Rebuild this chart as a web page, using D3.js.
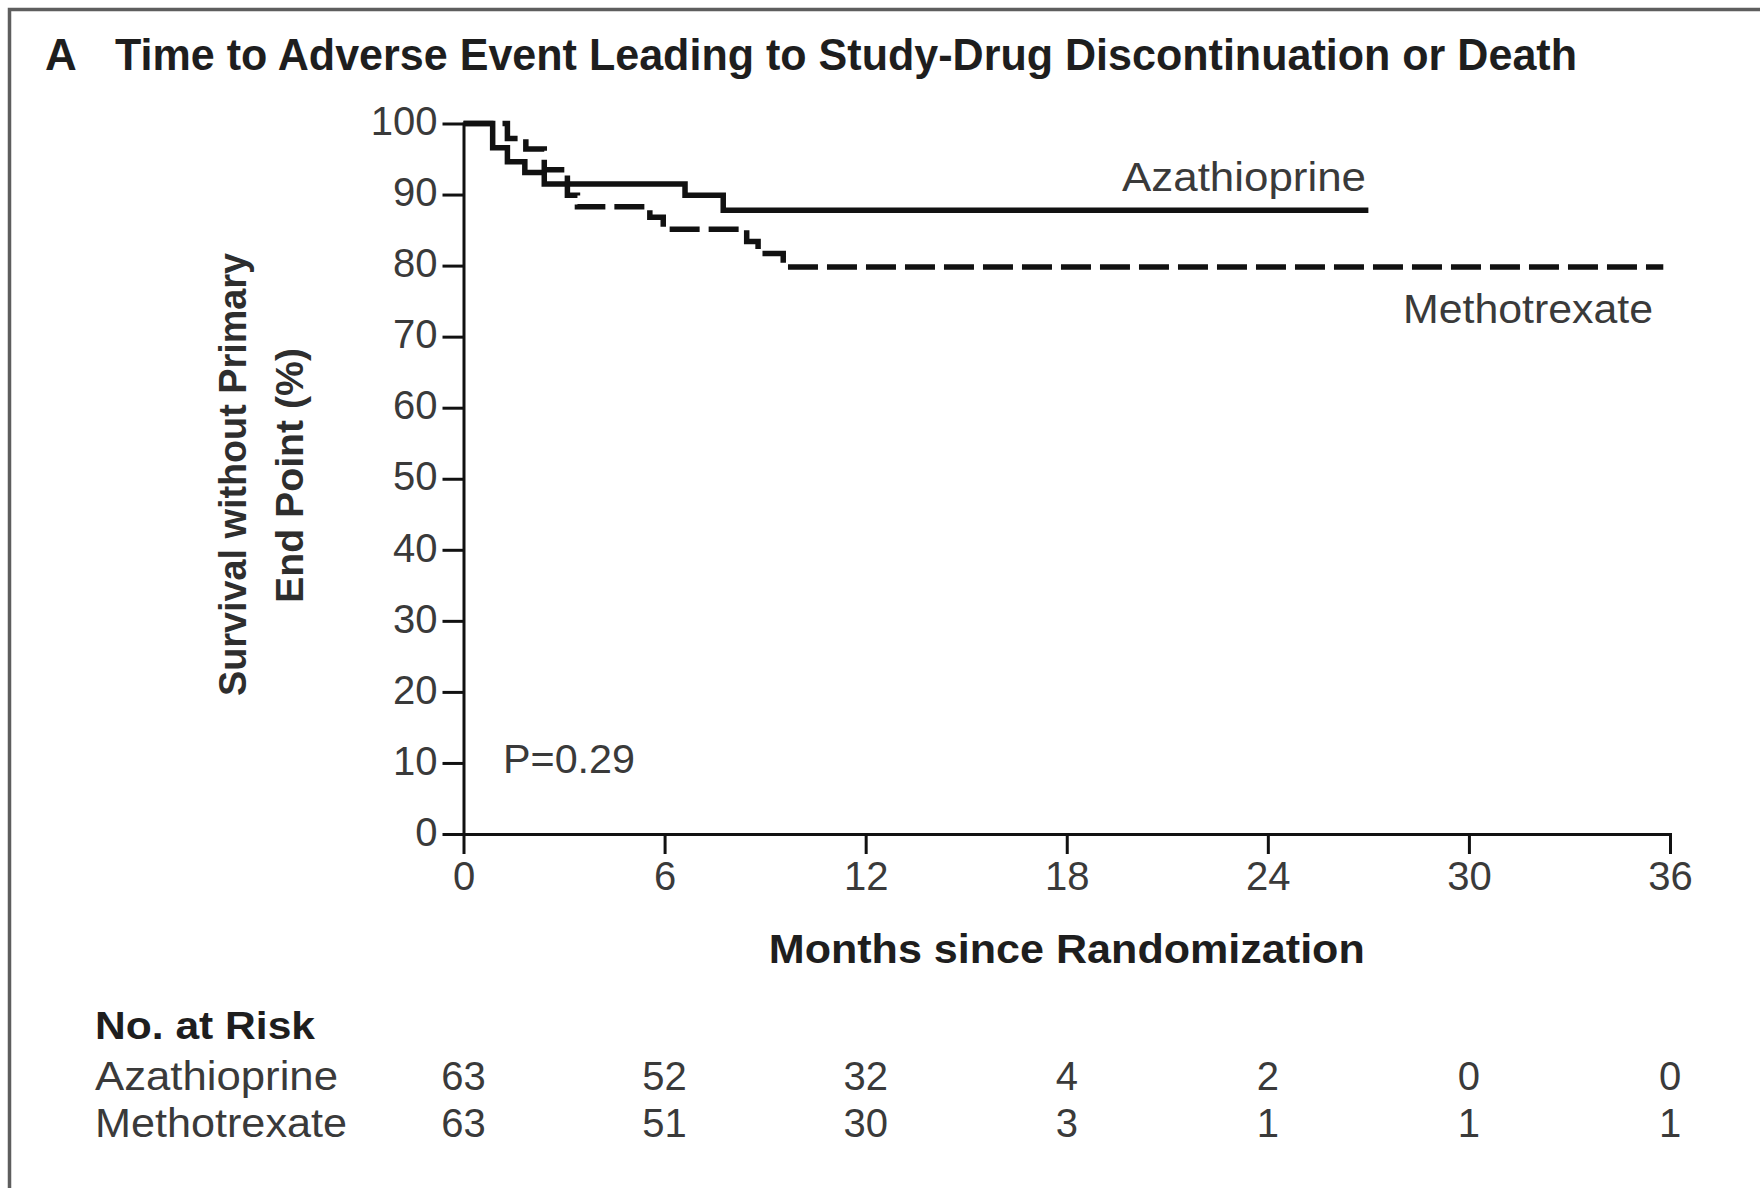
<!DOCTYPE html>
<html>
<head>
<meta charset="utf-8">
<script src="https://cdn.jsdelivr.net/npm/d3@7"></script>
<style>
  html, body { margin: 0; padding: 0; background: #fff; }
  svg { display: block; }
</style>
</head>
<body>
<svg id="chart" width="1760" height="1188"></svg>
<script>
// Kaplan-Meier step data (months since randomization, % surviving without primary end point)
const azaTime = [0, 0.87, 1.31, 1.83, 2.41, 6.61, 7.75, 27.0];
const azaSurv = [100, 96.6, 94.6, 93.1, 91.5, 89.9, 87.8, 87.8];
const mtxTime = [0, 1.31, 1.86, 2.41, 3.10, 3.40, 5.56, 5.96, 8.45, 8.79, 9.54, 35.8];
const mtxSurv = [100, 97.9, 96.4, 93.5, 89.9, 88.3, 86.8, 85.1, 83.4, 81.7, 79.8, 79.8];

// Axis ticks
const monthTicks = [0, 6, 12, 18, 24, 30, 36];
const pctTicks = [0, 10, 20, 30, 40, 50, 60, 70, 80, 90, 100];

// Number at risk at each month tick
const groups = ["Azathioprine", "Methotrexate"];
const riskAza = [63, 52, 32, 4, 2, 0, 0];
const riskMtx = [63, 51, 30, 3, 1, 1, 1];

const svg = d3.select("#chart");
const SANS = "'Liberation Sans', Arial, sans-serif";
const NARROW = "'Liberation Sans Narrow', 'Liberation Sans', Arial, sans-serif";
const TEXT = "#3a3a3a";

// Panel frame (left and top edges)
svg.append("path")
  .attr("d", "M9.5,1188 V9.5 H1760")
  .attr("fill", "none")
  .attr("stroke", "#5e5e5e")
  .attr("stroke-width", 3.5);

// Panel letter and title
svg.append("text")
  .attr("x", 45).attr("y", 70)
  .attr("font-family", SANS).attr("font-weight", 700).attr("font-size", 44)
  .attr("fill", "#1e1e1e")
  .text("A");
svg.append("text")
  .attr("x", 115).attr("y", 70)
  .attr("font-family", NARROW).attr("font-weight", 700).attr("font-size", 44)
  .attr("fill", "#1e1e1e")
  .attr("textLength", 1462).attr("lengthAdjust", "spacingAndGlyphs")
  .text("Time to Adverse Event Leading to Study-Drug Discontinuation or Death");

// Scales
const x = d3.scaleLinear().domain([0, 36]).range([463.5, 1670]);
const y = d3.scaleLinear().domain([0, 100]).range([834, 123.5]);

// Y axis
const yAxis = svg.append("g")
  .attr("transform", `translate(${x(0)},0)`)
  .call(d3.axisLeft(y).tickValues(pctTicks).tickSize(21).tickSizeOuter(0).tickPadding(5));
yAxis.select(".domain").attr("stroke", "#111").attr("stroke-width", 3);
yAxis.selectAll(".tick line").attr("stroke", "#111").attr("stroke-width", 3);
yAxis.selectAll(".tick text")
  .attr("font-family", SANS).attr("font-size", 40).attr("fill", TEXT)
  .attr("dy", "0.28em");

// X axis
const xAxis = svg.append("g")
  .attr("transform", `translate(0,${y(0)})`)
  .call(d3.axisBottom(x).tickValues(monthTicks).tickSize(20).tickSizeOuter(0));
xAxis.select(".domain").attr("stroke", "#111").attr("stroke-width", 3);
xAxis.selectAll(".tick line").attr("stroke", "#111").attr("stroke-width", 3);
xAxis.selectAll(".tick text")
  .attr("font-family", SANS).attr("font-size", 40).attr("fill", TEXT)
  .attr("y", 56).attr("dy", 0);
svg.selectAll(".domain").attr("stroke-linecap", "square");

// Axis titles
svg.append("text")
  .attr("transform", "translate(246,474.5) rotate(-90)")
  .attr("text-anchor", "middle")
  .attr("font-family", NARROW).attr("font-weight", 700).attr("font-size", 38)
  .attr("fill", "#2e2e2e")
  .attr("textLength", 443).attr("lengthAdjust", "spacingAndGlyphs")
  .text("Survival without Primary");
svg.append("text")
  .attr("transform", "translate(303,475.5) rotate(-90)")
  .attr("text-anchor", "middle")
  .attr("font-family", NARROW).attr("font-weight", 700).attr("font-size", 38)
  .attr("fill", "#2e2e2e")
  .attr("textLength", 255).attr("lengthAdjust", "spacingAndGlyphs")
  .text("End Point (%)");
svg.append("text")
  .attr("x", (x(0) + x(36)) / 2).attr("y", 963)
  .attr("text-anchor", "middle")
  .attr("font-family", NARROW).attr("font-weight", 700).attr("font-size", 40)
  .attr("fill", "#1e1e1e")
  .attr("textLength", 596).attr("lengthAdjust", "spacingAndGlyphs")
  .text("Months since Randomization");

// Survival curves
const stepLine = d3.line()
  .x(d => x(d[0]))
  .y(d => y(d[1]))
  .curve(d3.curveStepAfter);

const curves = [
  { name: "Azathioprine", pts: d3.zip(azaTime, azaSurv), dash: null },
  { name: "Methotrexate", pts: d3.zip(mtxTime, mtxSurv), dash: "30,9" }
];

svg.append("g").selectAll("path")
  .data(curves)
  .join("path")
  .attr("d", d => stepLine(d.pts))
  .attr("fill", "none")
  .attr("stroke", "#111")
  .attr("stroke-width", 5.5)
  .attr("stroke-linejoin", "miter")
  .attr("stroke-dasharray", d => d.dash);

// Curve labels
svg.append("text")
  .attr("x", 1122).attr("y", 191)
  .attr("font-family", SANS).attr("font-size", 40).attr("fill", TEXT)
  .attr("textLength", 244).attr("lengthAdjust", "spacingAndGlyphs")
  .text("Azathioprine");
svg.append("text")
  .attr("x", 1403).attr("y", 323)
  .attr("font-family", SANS).attr("font-size", 40).attr("fill", TEXT)
  .attr("textLength", 250).attr("lengthAdjust", "spacingAndGlyphs")
  .text("Methotrexate");

// P value
svg.append("text")
  .attr("x", 503).attr("y", 773)
  .attr("font-family", SANS).attr("font-size", 40).attr("fill", TEXT)
  .attr("textLength", 132).attr("lengthAdjust", "spacingAndGlyphs")
  .text("P=0.29");

// Number-at-risk table
svg.append("text")
  .attr("x", 95).attr("y", 1039)
  .attr("font-family", NARROW).attr("font-weight", 700).attr("font-size", 39)
  .attr("fill", "#1e1e1e")
  .attr("textLength", 220).attr("lengthAdjust", "spacingAndGlyphs")
  .text("No. at Risk");

const rows = [
  { label: groups[0], values: riskAza, yPos: 1090, len: 243 },
  { label: groups[1], values: riskMtx, yPos: 1137, len: 252 }
];

rows.forEach(r => {
  svg.append("text")
    .attr("x", 95).attr("y", r.yPos)
    .attr("font-family", SANS).attr("font-size", 40).attr("fill", TEXT)
    .attr("textLength", r.len).attr("lengthAdjust", "spacingAndGlyphs")
    .text(r.label);
  svg.append("g").selectAll("text")
    .data(d3.zip(monthTicks, r.values))
    .join("text")
    .attr("x", d => x(d[0]))
    .attr("y", r.yPos)
    .attr("text-anchor", "middle")
    .attr("font-family", SANS).attr("font-size", 40).attr("fill", TEXT)
    .text(d => d[1]);
});
</script>
</body>
</html>
